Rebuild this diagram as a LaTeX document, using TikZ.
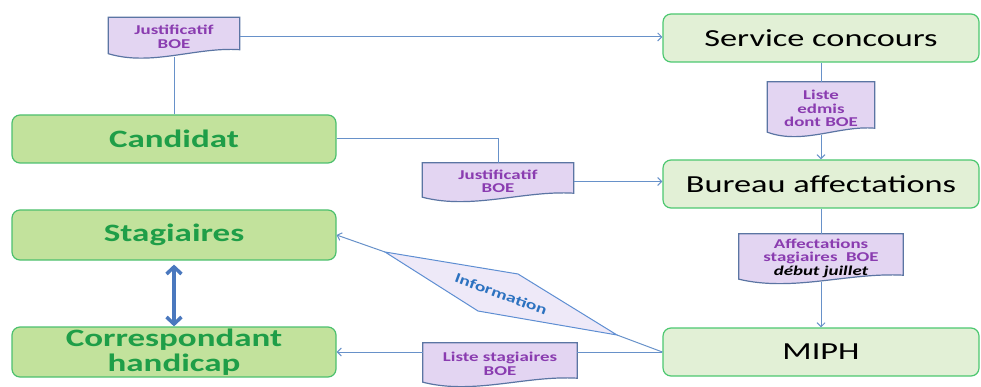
\documentclass[tikz,border=0pt]{standalone}
\usepackage{fontspec}
\setmainfont{Carlito}[FakeStretch=1.4]
\usepackage{tikz}
\usetikzlibrary{arrows.meta}
\usetikzlibrary{calc}
\usetikzlibrary{backgrounds}
\definecolor{leftfill}{HTML}{C2E29C}
\definecolor{leftline}{HTML}{4CC06E}
\definecolor{lefttext}{HTML}{1F9E48}
\definecolor{rightfill}{HTML}{E2F0D6}
\definecolor{rightline}{HTML}{4CC870}
\definecolor{docfill}{HTML}{E3D5F2}
\definecolor{docline}{HTML}{5B75A3}
\definecolor{doctext}{HTML}{8A3CB0}
\definecolor{infofill}{HTML}{EEE9F8}
\definecolor{infoline}{HTML}{5E8ED2}
\definecolor{infotext}{HTML}{2C72C0}
\definecolor{linkcol}{HTML}{6791C9}
\definecolor{bigarrow}{HTML}{4A78BE}
\tikzset{leftbox/.style = {draw=leftline, fill=leftfill, line width=1.2pt,
                           rounded corners=8pt, minimum width=324pt, minimum height=48pt,
                           inner sep=0pt, align=center, text=lefttext,
                           font=\bfseries\fontsize{25}{25}\selectfont}}
\tikzset{rightbox/.style = {draw=rightline, fill=rightfill, line width=1.2pt,
                            rounded corners=8pt, minimum width=316pt, minimum height=48pt,
                            inner sep=0pt, text=black, font=\fontsize{24.5}{25}\selectfont}}
\tikzset{docu/.style = {inner sep=0pt, align=center, text=doctext,
                        font=\bfseries\fontsize{13.5}{13.5}\selectfont}}
\tikzset{link/.style = {draw=linkcol, line width=1pt}}
\tikzset{linkto/.style = {link, -{Straight Barb[length=4pt, width=8pt]}}}
\tikzset{dblarrow/.style = {draw=bigarrow, line width=3.5pt,
                            {Straight Barb[length=7pt, width=15pt]}-{Straight Barb[length=7pt, width=15pt]}}}
\newcommand\docshape[1]{%
  \draw [draw=docline, fill=docfill, line width=1.2pt]
    (#1.north west) -- (#1.north east) -- ($(#1.south east)+(0,-7)$)
    .. controls ($(#1.south west)!0.67!(#1.south east)+(0,-10)$)
    and ($(#1.south west)!0.33!(#1.south east)+(0,10)$)
    .. ($(#1.south west)+(0,-3)$) -- cycle;}

\begin{document}
\begin{tikzpicture}[x=1pt, y=-1pt]
  \useasboundingbox (0,0) rectangle (981,387);
  \node [leftbox] (cand) at (174,139) {Candidat};
  \node [leftbox, minimum height=50pt] (stag) at (174,235) {Stagiaires};
  \node [leftbox, minimum height=50pt] (corr) at (174,352) {Correspondant\\handicap};
  \node [rightbox] (svc) at (821,38) {Service concours};
  \node [rightbox] (bur) at (821,184) {Bureau affectations};
  \node [rightbox] (miph) at (821,352) {MIPH};
  \node [docu, minimum width=131pt, minimum height=39pt] (docA) at (174,37) {Justificatif\\BOE};
  \node [docu, minimum width=107pt, minimum height=53pt] (docB) at (821,108.5) {Liste\\edmis\\dont BOE};
  \node [docu, minimum width=151pt, minimum height=37pt] (docC) at (498,181.5) {Justificatif\\BOE};
  \node [docu, minimum width=164pt, minimum height=48pt] (docD) at (821,258)
        {Affectations\\stagiaires~~BOE\\\textcolor{black}{\itshape début juillet}};
  \node [docu, minimum width=154pt, minimum height=42pt] (docE) at (500,364) {Liste stagiaires\\BOE};
  \begin{scope}[on background layer]
    \docshape{docA}
    \docshape{docB}
    \docshape{docC}
    \docshape{docD}
    \docshape{docE}
  \end{scope}
  \coordinate (infoL) at (385,252);
  \coordinate (infoT) at (518,274);
  \coordinate (infoR) at (617,335);
  \coordinate (infoB) at (478,311);
  \draw [draw=infoline, fill=infofill, line width=1pt] (infoL) -- (infoT) -- (infoR) -- (infoB) -- cycle;
  \node [rotate=-20, text=infotext, font=\bfseries\fontsize{14}{14}\selectfont] (info) at (501,294) {Information};
  \draw [link] (cand.north) -- (docA.south);
  \draw [linkto] (docA.east) -- (docA.east -| svc.west);
  \draw [link] (cand.east) -| (docC.north);
  \draw [linkto] (docC.east) -- (docC.east -| bur.west);
  \draw [link] (svc.south) -- (docB.north);
  \draw [linkto] (docB.south) -- (bur.north);
  \draw [link] (bur.south) -- (docD.north);
  \draw [linkto] (docD.south) -- (miph.north);
  \draw [link] (miph.west) -- (miph.west -| docE.east);
  \draw [linkto] (docE.west |- corr.east) -- (corr.east);
  \draw [link] (miph.west) -- (infoR);
  \draw [linkto] (infoL) -- (stag.east);
  \draw [dblarrow, shorten <=4pt] (stag.south) -- (corr.north);
\end{tikzpicture}
\end{document}
